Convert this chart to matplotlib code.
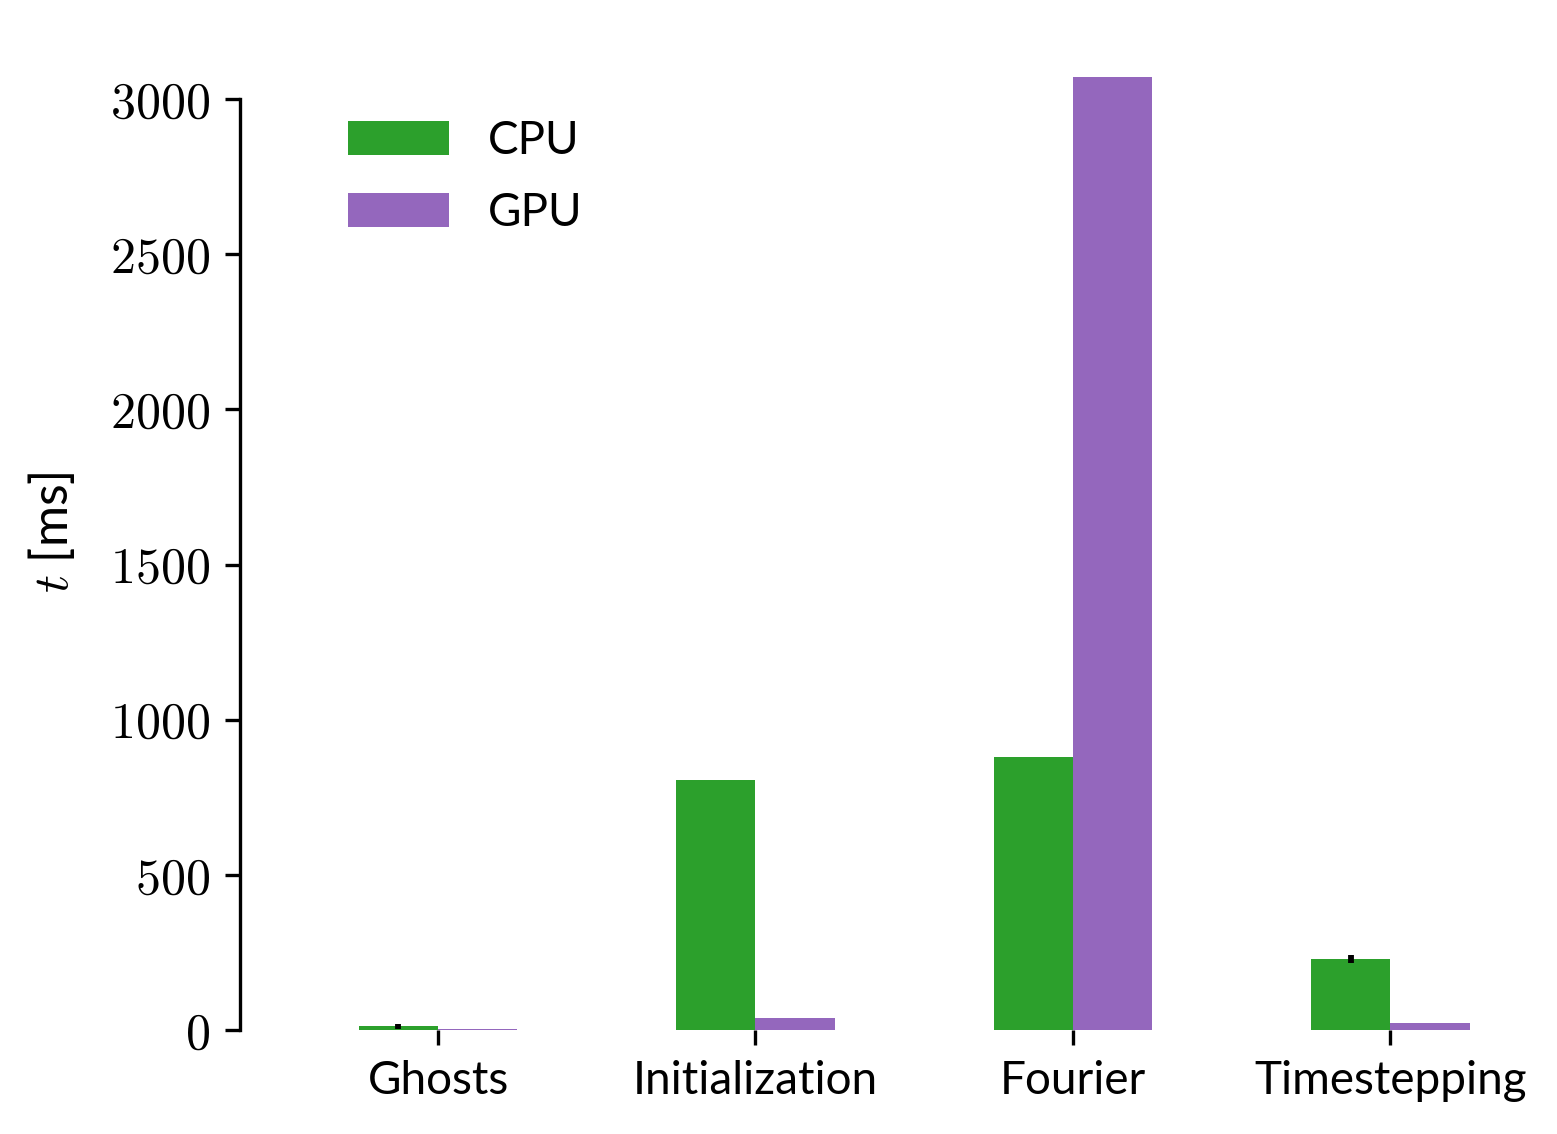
import numpy as np
import matplotlib
matplotlib.use("Agg")
import matplotlib.pyplot as plt
from matplotlib.ticker import FuncFormatter

# Timing data (ms)
stages = ["Ghosts", "Initialization", "Fourier", "Timestepping"]
cpu_time = [12, 805, 880, 229]
cpu_err = [8, 0, 0, 13]
gpu_time = [2, 39, 3071, 23]

plt.rcParams["mathtext.fontset"] = "cm"
plt.rcParams["font.family"] = ["Lato", "DejaVu Sans"]
plt.rcParams["font.size"] = 11

dpi = 300
fig = plt.figure(figsize=(1557 / dpi, 1134 / dpi), dpi=dpi)
W, H = 1557, 1134
# axes placed in pixel coordinates
x0, x1 = 240, 1549
y_bot, y_top = 1030, 34
ymax = (y_bot - y_top) * 3000 / (1030 - 99)
ax = fig.add_axes([x0 / W, 1 - y_bot / H, (x1 - x0) / W, (y_bot - y_top) / H])

x = np.arange(len(stages))
w = 0.25
ax.bar(x - w / 2, cpu_time, w, yerr=cpu_err, color="#2ca02c", label="CPU",
       error_kw=dict(ecolor="black", elinewidth=1.4, capsize=0))
ax.bar(x + w / 2, gpu_time, w, color="#9467bd", label="GPU")

ax.set_xlim(-0.624, 3.5)
ax.set_ylim(0, ymax)
ax.set_xticks(x)
ax.set_xticklabels(stages)
ax.set_yticks([0, 500, 1000, 1500, 2000, 2500, 3000])
ax.yaxis.set_major_formatter(FuncFormatter(lambda v, p: r"$%d$" % v))
for lab in ax.get_yticklabels():
    lab.set_fontsize(12)

for s in ["top", "right", "bottom"]:
    ax.spines[s].set_visible(False)
ax.spines["left"].set_bounds(0, 3000)
ax.spines["left"].set_linewidth(0.8)
ax.tick_params(axis="both", length=3.6, width=0.8, color="black")

ax.set_ylabel(r"$t$ [ms]", fontsize=12, labelpad=8)

ax.legend(loc="upper left", bbox_to_anchor=(108 / (x1 - x0), 1 - 86 / (y_bot - y_top)),
          frameon=False, handlelength=2.2, handleheight=0.75, handletextpad=0.85,
          labelspacing=0.65, borderaxespad=0, borderpad=0, fontsize=11)

fig.savefig("out.png", dpi=dpi)
